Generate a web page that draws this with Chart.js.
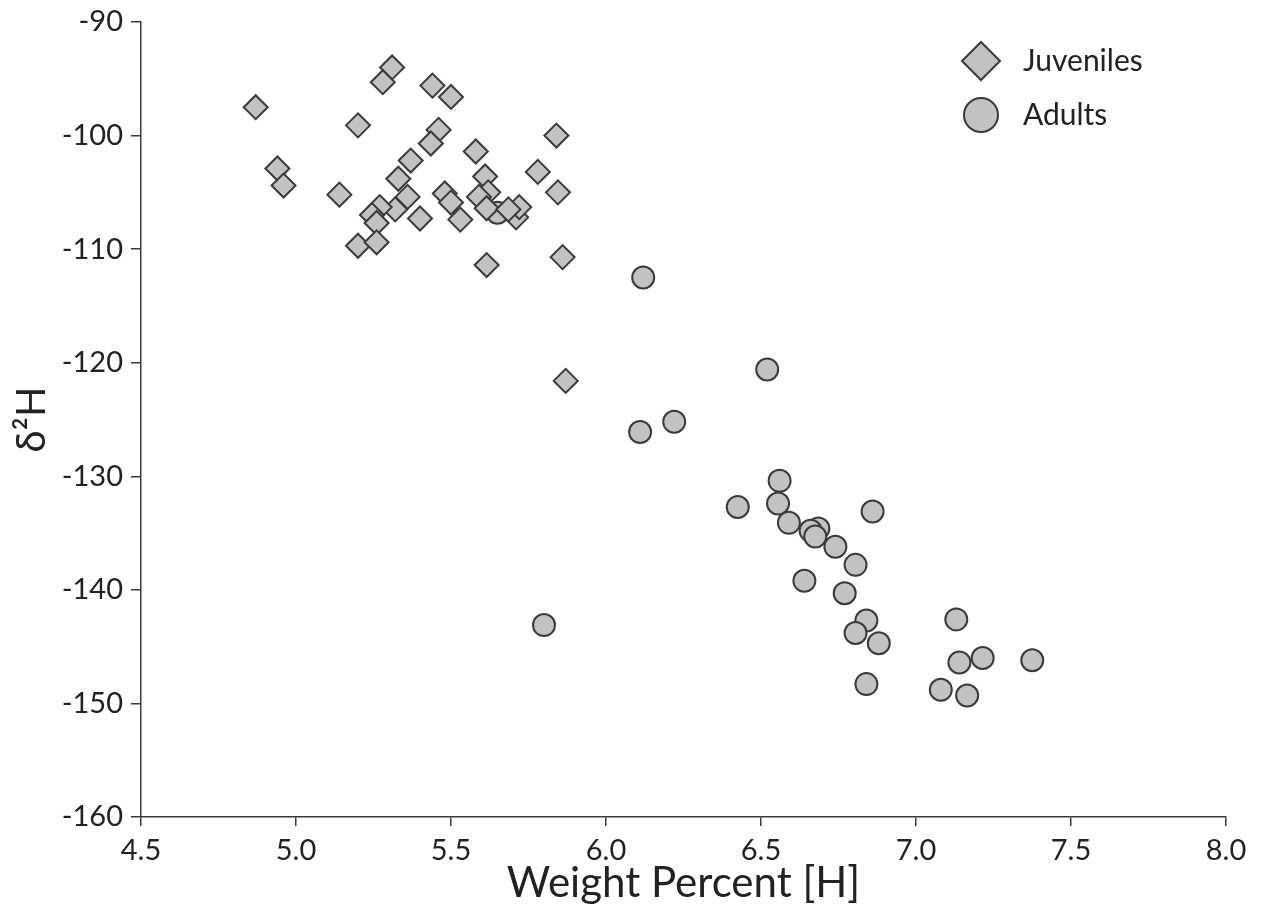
<!DOCTYPE html>
<html>
<head>
<meta charset="utf-8">
<script src="https://cdn.jsdelivr.net/npm/chart.js@4/dist/chart.umd.min.js"></script>
<style>
  html, body { margin: 0; padding: 0; background: #fff; }
</style>
</head>
<body>
<canvas id="grafico" width="1265" height="918"></canvas>
<script>
// Juveniles
var juvWeight = [4.87, 4.94, 4.96, 5.14, 5.20, 5.20, 5.31, 5.28, 5.37, 5.33, 5.36, 5.32, 5.27,
  5.245, 5.26, 5.26, 5.40, 5.44, 5.50, 5.46, 5.435, 5.58, 5.61, 5.62, 5.59, 5.615, 5.48, 5.50,
  5.53, 5.71, 5.72, 5.685, 5.78, 5.84, 5.845, 5.86, 5.615, 5.87];
var juvD2H = [-97.5, -102.9, -104.4, -105.2, -99.1, -109.7, -94.0, -95.3, -102.2, -103.8, -105.4,
  -106.5, -106.3, -107.0, -107.7, -109.4, -107.3, -95.6, -96.6, -99.5, -100.7, -101.4, -103.6,
  -105.0, -105.4, -106.4, -105.1, -105.9, -107.4, -107.2, -106.3, -106.5, -103.2, -100.0, -105.0,
  -110.7, -111.4, -121.6];

// Adults
var adultWeight = [6.12, 5.65, 5.80, 6.52, 6.11, 6.22, 6.56, 6.555, 6.425, 6.86, 6.59, 6.685,
  6.66, 6.675, 6.74, 6.64, 6.805, 6.77, 6.84, 6.805, 6.88, 6.84, 7.13, 7.14, 7.215, 7.375, 7.08, 7.165];
var adultD2H = [-112.5, -106.8, -143.1, -120.6, -126.1, -125.2, -130.4, -132.4, -132.7, -133.1,
  -134.1, -134.6, -134.8, -135.3, -136.2, -139.2, -137.8, -140.3, -142.7, -143.8, -144.7, -148.3,
  -142.6, -146.4, -146.0, -146.2, -148.8, -149.3];

var xTicks = [4.5, 5.0, 5.5, 6.0, 6.5, 7.0, 7.5, 8.0];
var yTicks = [-90, -100, -110, -120, -130, -140, -150, -160];

var fill = '#c2c2c2';
var edge = '#3a3a3a';
var textCol = '#222';
var fontFam = 'Lato, "Open Sans", sans-serif';

function toPoints(xs, ys) {
  var pts = [];
  for (var i = 0; i < xs.length; i++) pts.push({ x: xs[i], y: ys[i] });
  return pts;
}

// legend drawn inside the plot, top right
var legendInside = {
  id: 'legendInside',
  afterDraw: function (chart) {
    var ctx = chart.ctx;
    ctx.save();
    ctx.fillStyle = fill;
    ctx.strokeStyle = edge;
    ctx.lineWidth = 2;
    // diamond
    ctx.beginPath();
    ctx.moveTo(981, 42); ctx.lineTo(1000, 61); ctx.lineTo(981, 80); ctx.lineTo(962, 61);
    ctx.closePath();
    ctx.fill(); ctx.stroke();
    // circle
    ctx.beginPath();
    ctx.arc(981, 115, 17, 0, Math.PI * 2);
    ctx.fill(); ctx.stroke();
    ctx.fillStyle = textCol;
    ctx.font = '30px ' + fontFam;
    ctx.textBaseline = 'middle';
    ctx.fillText('Juveniles', 1023, 61);
    ctx.fillText('Adults', 1023, 115);
    ctx.restore();
  }
};

var ctx = document.getElementById('grafico').getContext('2d');
var myChart = new Chart(ctx, {
  type: 'scatter',
  data: {
    datasets: [{
      label: 'Juveniles',
      data: toPoints(juvWeight, juvD2H),
      pointStyle: 'rectRot',
      pointRadius: 12,
      backgroundColor: fill,
      borderColor: edge,
      borderWidth: 2
    }, {
      label: 'Adults',
      data: toPoints(adultWeight, adultD2H),
      pointStyle: 'circle',
      pointRadius: 11,
      backgroundColor: fill,
      borderColor: edge,
      borderWidth: 2
    }]
  },
  options: {
    responsive: false,
    animation: false,
    layout: { padding: { left: 0, right: 39, top: 22, bottom: 0 } },
    plugins: { legend: { display: false }, tooltip: { enabled: false } },
    scales: {
      x: {
        type: 'linear',
        min: 4.5,
        max: 8.0,
        afterBuildTicks: function (scale) {
          scale.ticks = xTicks.map(function (v) { return { value: v }; });
        },
        afterFit: function (scale) { scale.height = 101; },
        ticks: {
          color: textCol,
          font: { family: fontFam, size: 29 },
          padding: 7,
          maxRotation: 0,
          callback: function (v) { return v.toFixed(1); }
        },
        grid: { drawOnChartArea: false, drawTicks: true, tickLength: 9, color: edge, lineWidth: 1.5 },
        border: { color: edge, width: 1.5 },
        title: {
          display: true,
          text: 'Weight Percent [H]',
          color: textCol,
          font: { family: fontFam, size: 42 },
          padding: { top: 0, bottom: 9 }
        }
      },
      y: {
        type: 'linear',
        min: -160,
        max: -90,
        afterBuildTicks: function (scale) {
          scale.ticks = yTicks.map(function (v) { return { value: v }; });
        },
        afterFit: function (scale) {
          scale.width = 141;
          scale.paddingTop = 0;
          scale.paddingBottom = 0;
        },
        ticks: {
          color: textCol,
          font: { family: fontFam, size: 29 },
          padding: 8
        },
        grid: { drawOnChartArea: false, drawTicks: true, tickLength: 10, color: edge, lineWidth: 1.5 },
        border: { color: edge, width: 1.5 },
        title: {
          display: true,
          text: 'δ²H',
          color: textCol,
          font: { family: fontFam, size: 40 },
          padding: { top: 8, bottom: 0 }
        }
      }
    }
  },
  plugins: [legendInside]
});
</script>
</body>
</html>
